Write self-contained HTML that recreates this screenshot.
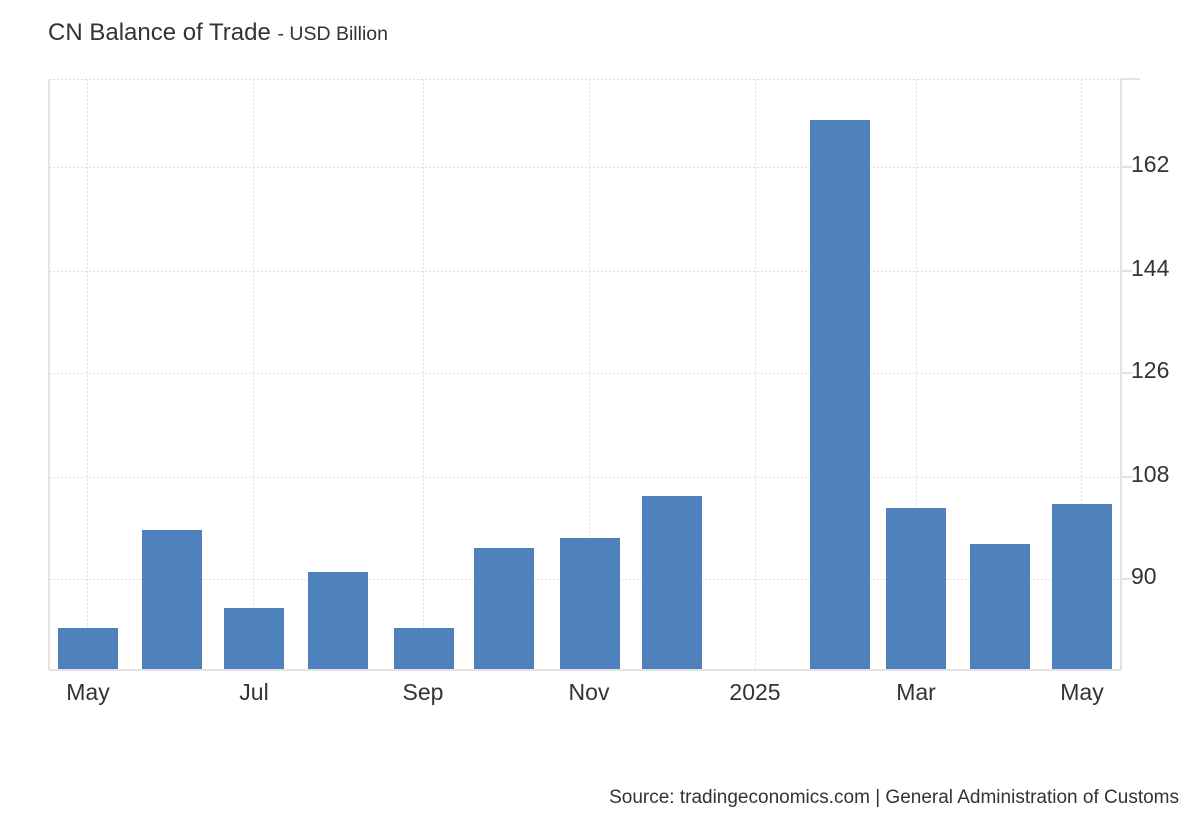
<!DOCTYPE html>
<html><head><meta charset="utf-8"><style>
body{margin:0;background:#fff;font-family:"Liberation Sans",Arial,sans-serif;}
</style></head><body>
<svg width="1200" height="820" xmlns="http://www.w3.org/2000/svg" font-family="Liberation Sans, Arial, sans-serif">
<text x="48" y="40" font-size="24" fill="#333">CN Balance of Trade <tspan font-size="19.5">- USD Billion</tspan></text>
<g stroke="#ddd" stroke-width="1" stroke-dasharray="2,2">
<line x1="49" y1="79.5" x2="1121" y2="79.5"/>
<line x1="49" y1="167.5" x2="1121" y2="167.5"/>
<line x1="49" y1="271.5" x2="1121" y2="271.5"/>
<line x1="49" y1="373.5" x2="1121" y2="373.5"/>
<line x1="49" y1="477.5" x2="1121" y2="477.5"/>
<line x1="49" y1="579.5" x2="1121" y2="579.5"/>
<line x1="87.5" y1="79" x2="87.5" y2="670"/>
<line x1="253.5" y1="79" x2="253.5" y2="670"/>
<line x1="423.5" y1="79" x2="423.5" y2="670"/>
<line x1="589.5" y1="79" x2="589.5" y2="670"/>
<line x1="755.5" y1="79" x2="755.5" y2="670"/>
<line x1="916.5" y1="79" x2="916.5" y2="670"/>
<line x1="1081.5" y1="79" x2="1081.5" y2="670"/>
</g>
<g stroke="#e3e3e3" stroke-width="2">
<line x1="49" y1="79" x2="49" y2="670"/>
<line x1="49" y1="670" x2="1121" y2="670"/>
<line x1="1121" y1="79" x2="1121" y2="670"/>
<line x1="1121" y1="79" x2="1140" y2="79"/>
<line x1="1121" y1="167" x2="1132" y2="167"/>
<line x1="1121" y1="271" x2="1132" y2="271"/>
<line x1="1121" y1="373" x2="1132" y2="373"/>
<line x1="1121" y1="477" x2="1132" y2="477"/>
<line x1="1121" y1="579" x2="1132" y2="579"/>
</g>
<g fill="#4f81bd">
<rect x="58" y="628" width="60" height="41"/>
<rect x="142" y="530" width="60" height="139"/>
<rect x="224" y="608" width="60" height="61"/>
<rect x="308" y="572" width="60" height="97"/>
<rect x="394" y="628" width="60" height="41"/>
<rect x="474" y="548" width="60" height="121"/>
<rect x="560" y="538" width="60" height="131"/>
<rect x="642" y="496" width="60" height="173"/>
<rect x="810" y="120" width="60" height="549"/>
<rect x="886" y="508" width="60" height="161"/>
<rect x="970" y="544" width="60" height="125"/>
<rect x="1052" y="504" width="60" height="165"/>
</g>
<g font-size="23" fill="#333">
<text x="1131" y="172">162</text>
<text x="1131" y="276">144</text>
<text x="1131" y="378">126</text>
<text x="1131" y="482">108</text>
<text x="1131" y="584">90</text>
</g>
<g font-size="23" fill="#333" text-anchor="middle">
<text x="88" y="700">May</text>
<text x="254" y="700">Jul</text>
<text x="423" y="700">Sep</text>
<text x="589" y="700">Nov</text>
<text x="755" y="700">2025</text>
<text x="916" y="700">Mar</text>
<text x="1082" y="700">May</text>
</g>
<text x="1179" y="803" font-size="19" fill="#333" text-anchor="end">Source: tradingeconomics.com | General Administration of Customs</text>
</svg>
</body></html>
